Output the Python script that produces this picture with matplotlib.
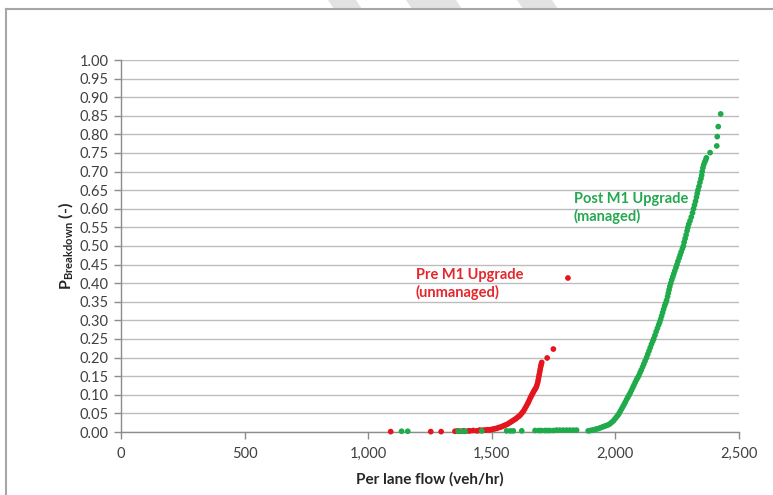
import matplotlib
matplotlib.use("Agg")
import matplotlib.pyplot as plt
from matplotlib.lines import Line2D
from matplotlib.patches import Polygon
from matplotlib.ticker import FuncFormatter, MultipleLocator

# ---------------- data ----------------
pre_flow = [1091, 1253, 1295, 1351, 1362, 1372, 1385, 1392, 1405, 1412, 1425, 1439, 1448,
            1452, 1460, 1466, 1475, 1482, 1488,
            1493, 1500, 1507, 1514, 1521, 1528, 1535, 1542, 1549, 1556, 1563, 1570, 1577,
            1584, 1591, 1598, 1605, 1611, 1617, 1623, 1629, 1634, 1639, 1644, 1648, 1652,
            1656, 1660, 1664, 1668, 1672, 1676, 1680, 1683, 1686, 1688, 1690, 1692, 1694,
            1696, 1698, 1700, 1702, 1724, 1749, 1808]
pre_p = [0.001, 0.001, 0.001, 0.002, 0.003, 0.002, 0.003, 0.002, 0.003, 0.003, 0.004, 0.003, 0.004,
         0.005, 0.004, 0.005, 0.005, 0.006, 0.006,
         0.006, 0.007, 0.008, 0.009, 0.010, 0.012, 0.013, 0.015, 0.017, 0.019, 0.021, 0.024, 0.027,
         0.030, 0.033, 0.036, 0.040, 0.043, 0.047, 0.052, 0.057, 0.063, 0.069, 0.075, 0.080, 0.086,
         0.092, 0.097, 0.102, 0.107, 0.112, 0.116, 0.121, 0.127, 0.134, 0.141, 0.148, 0.155, 0.162,
         0.169, 0.176, 0.182, 0.187, 0.199, 0.223, 0.414]

post_flow = [1135, 1160, 1364, 1378, 1392, 1459, 1560, 1575, 1587, 1621, 1675, 1690, 1700, 1715,
             1725, 1735, 1750, 1762, 1775, 1789, 1803, 1816, 1830, 1843,
             1890, 1898, 1906, 1914, 1922, 1930, 1938, 1946, 1954, 1962, 1970, 1978, 1985, 1992,
             1998, 2004, 2010, 2015, 2020, 2025, 2030, 2035, 2040, 2045, 2050, 2055, 2060, 2065,
             2070, 2075, 2080, 2085, 2090, 2095, 2100, 2105, 2110, 2115, 2120, 2126, 2131, 2136,
             2141, 2146, 2151, 2155, 2160, 2165, 2170, 2175, 2179, 2183, 2187, 2191, 2195, 2199,
             2203, 2207, 2211, 2214, 2217, 2220, 2224, 2228, 2232, 2236, 2240, 2245, 2249, 2253,
             2258, 2262, 2266, 2271, 2275, 2278, 2282, 2286, 2290, 2293, 2297, 2302, 2307, 2312,
             2316, 2320, 2324, 2328, 2331, 2334, 2338, 2342, 2346, 2349, 2351, 2354, 2357, 2361,
             2365, 2368, 2383, 2410, 2412, 2416, 2426]
post_p = [0.002, 0.002, 0.002, 0.002, 0.002, 0.003, 0.003, 0.003, 0.003, 0.003, 0.004, 0.004, 0.004,
          0.004, 0.004, 0.004, 0.004, 0.005, 0.005, 0.005, 0.005, 0.005, 0.005, 0.005,
          0.003, 0.004, 0.005, 0.006, 0.008, 0.009, 0.011, 0.013, 0.015, 0.017, 0.019, 0.022, 0.026,
          0.030, 0.035, 0.040, 0.045, 0.050, 0.056, 0.062, 0.068, 0.074, 0.080, 0.087, 0.093, 0.099,
          0.105, 0.112, 0.119, 0.126, 0.133, 0.140, 0.146, 0.152, 0.160, 0.167, 0.175, 0.183, 0.191,
          0.200, 0.209, 0.218, 0.227, 0.236, 0.244, 0.251, 0.260, 0.270, 0.279, 0.288, 0.295, 0.303,
          0.312, 0.321, 0.330, 0.339, 0.346, 0.354, 0.364, 0.373, 0.382, 0.391, 0.400, 0.409, 0.417,
          0.425, 0.433, 0.442, 0.450, 0.459, 0.468, 0.476, 0.484, 0.493, 0.500, 0.510, 0.520, 0.530,
          0.541, 0.550, 0.559, 0.568, 0.578, 0.589, 0.600, 0.610, 0.620, 0.631, 0.641, 0.650, 0.660,
          0.671, 0.681, 0.690, 0.700, 0.710, 0.718, 0.725, 0.731, 0.737, 0.751, 0.769, 0.794, 0.821,
          0.855]

pre_label = "Pre M1 Upgrade\n(unmanaged)"
post_label = "Post M1 Upgrade\n(managed)"
x_label = "Per lane flow (veh/hr)"
y_label = r"$\mathbf{P}_{\mathbf{Breakdown}}$ (-)"

# ---------------- style ----------------
plt.rcParams['font.family'] = ['Lato', 'DejaVu Sans']
plt.rcParams['mathtext.fontset'] = 'custom'
plt.rcParams['mathtext.bf'] = 'Lato:bold'
plt.rcParams['mathtext.rm'] = 'Lato'

W, H = 773, 495
fig = plt.figure(figsize=(W / 100, H / 100), dpi=100)
left, right, top, bottom = 121, 739, 60, 432
ax = fig.add_axes([left / W, 1 - bottom / H, (right - left) / W, (bottom - top) / H])

red = '#e3161f'
green = '#1faa4b'

ax.scatter(pre_flow, pre_p, s=17, color=red, edgecolors='none', zorder=3, clip_on=False)
ax.scatter(post_flow, post_p, s=17, color=green, edgecolors='none', zorder=3, clip_on=False)

ax.set_xlim(0, 2500)
ax.set_ylim(0, 1.0)
ax.xaxis.set_major_locator(MultipleLocator(500))
ax.yaxis.set_major_locator(MultipleLocator(0.05))
ax.xaxis.set_major_formatter(FuncFormatter(lambda v, p: f"{int(v):,}"))
ax.yaxis.set_major_formatter(FuncFormatter(lambda v, p: f"{v:.2f}"))

ax.grid(axis='y', color='#bdbdbd', linewidth=1.0)
ax.set_axisbelow(True)
for s in ['top', 'right']:
    ax.spines[s].set_visible(False)
for s in ['left', 'bottom']:
    ax.spines[s].set_color('#8c8c8c')
    ax.spines[s].set_linewidth(1.0)
ax.tick_params(axis='both', colors='#8c8c8c', labelcolor='#404040', labelsize=10.5,
               length=5, width=1.0, direction='out')
ax.tick_params(axis='y', pad=4)
ax.tick_params(axis='x', pad=6)

ax.set_xlabel(x_label, fontsize=11, fontweight='bold', color='#262626', labelpad=8)
ax.set_ylabel(y_label, fontsize=11.5, fontweight='bold', color='#262626', labelpad=2)

ax.text(1193, 0.397, pre_label, color='#e5262c', fontsize=10.5, fontweight='bold',
        va='center', ha='left', linespacing=1.25)
ax.text(1832, 0.603, post_label, color='#25a851', fontsize=10.5, fontweight='bold',
        va='center', ha='left', linespacing=1.25)

# outer frame
fig.add_artist(Line2D([6 / W, 6 / W], [0, 1 - 9 / H], transform=fig.transFigure,
                      color='#a6a6a6', lw=1.5))
fig.add_artist(Line2D([6 / W, 1], [1 - 9 / H, 1 - 9 / H], transform=fig.transFigure,
                      color='#a6a6a6', lw=1.5))
# faint top decorations
for x0, x1 in [(328, 356), (406, 456), (517, 552)]:
    pts = [(x0 / W, 1), (x1 / W, 1), ((x1 + 6) / W, 1 - 9 / H), ((x0 + 6) / W, 1 - 9 / H)]
    fig.add_artist(Polygon(pts, closed=True, transform=fig.transFigure,
                           facecolor='#e2e2e2', edgecolor='none'))

fig.savefig('out.png', dpi=100)
